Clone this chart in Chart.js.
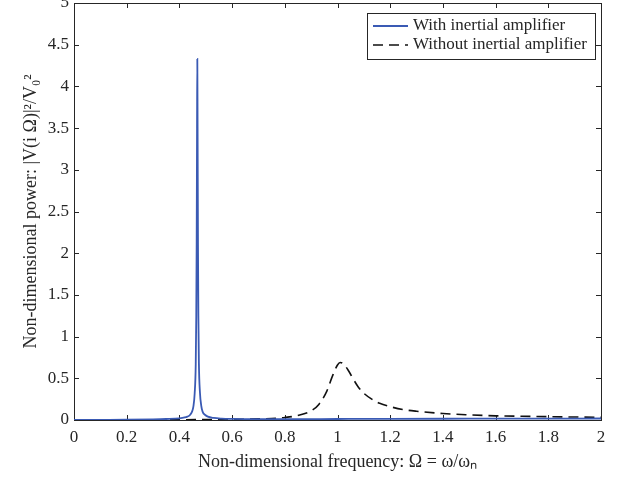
<!DOCTYPE html>
<html><head><meta charset="utf-8">
<script src="https://cdn.jsdelivr.net/npm/chart.js@4/dist/chart.umd.min.js"></script>
<style>html,body{margin:0;padding:0;background:#fff}#wrap{width:622px;height:478px}</style>
</head><body><div id="wrap"><canvas id="c" width="622" height="478"></canvas></div>
<script>
const seriesLabels = ['With inertial amplifier', 'Without inertial amplifier'];
const freqWith = [0, 0.1, 0.2, 0.3, 0.35, 0.4, 0.42, 0.43, 0.44, 0.448, 0.453, 0.458, 0.462, 0.464, 0.4655, 0.467, 0.468, 0.469, 0.4705, 0.472, 0.474, 0.478, 0.483, 0.488, 0.498, 0.508, 0.53, 0.56, 0.6, 0.7, 0.8, 1.0, 1.2, 1.4, 1.6, 1.8, 2.0];
const powerWith = [0, 0.002, 0.004, 0.008, 0.012, 0.02, 0.03, 0.04, 0.06, 0.1, 0.16, 0.32, 0.67, 1.25, 2.1, 3.5, 4.33, 3.5, 2.1, 1.25, 0.68, 0.33, 0.17, 0.1, 0.06, 0.04, 0.025, 0.017, 0.013, 0.01, 0.01, 0.012, 0.014, 0.015, 0.016, 0.017, 0.018];
const freqWithout = [0, 0.2, 0.4, 0.6, 0.7, 0.75, 0.8, 0.85, 0.9, 0.93, 0.96, 0.98, 1.0, 1.01, 1.02, 1.04, 1.06, 1.08, 1.1, 1.13, 1.16, 1.2, 1.25, 1.3, 1.4, 1.5, 1.6, 1.7, 1.8, 1.9, 2.0];
const powerWithout = [0, 0.001, 0.003, 0.008, 0.013, 0.018, 0.03, 0.055, 0.11, 0.19, 0.35, 0.52, 0.66, 0.69, 0.68, 0.6, 0.49, 0.39, 0.32, 0.25, 0.2, 0.16, 0.125, 0.105, 0.078, 0.062, 0.05, 0.045, 0.04, 0.036, 0.033];
const xTicks = [0, 0.2, 0.4, 0.6, 0.8, 1, 1.2, 1.4, 1.6, 1.8, 2];
const yTicks = [0, 0.5, 1, 1.5, 2, 2.5, 3, 3.5, 4, 4.5, 5];
const xTitle = 'Non-dimensional frequency: Ω = ω/ωₙ';
const yTitle = 'Non-dimensional power: |V(i Ω)|²/V₀²';

const AX = '#262626';
const FONT = "'Liberation Serif', 'Times New Roman', serif";

const framePlugin = {
  id: 'frame',
  beforeDatasetsDraw(chart) {
    const {ctx, chartArea: a, scales: {x, y}} = chart;
    ctx.save();
    ctx.strokeStyle = AX; ctx.lineWidth = 1;
    ctx.strokeRect(Math.round(a.left) + 0.5, Math.round(a.top) + 0.5, Math.round(a.right - a.left), Math.round(a.bottom - a.top));
    ctx.beginPath();
    xTicks.forEach(v => {
      const p = Math.round(x.getPixelForValue(v)) + 0.5;
      ctx.moveTo(p, a.bottom); ctx.lineTo(p, a.bottom - 5);
      ctx.moveTo(p, a.top); ctx.lineTo(p, a.top + 5);
    });
    yTicks.forEach(v => {
      const p = Math.round(y.getPixelForValue(v)) + 0.5;
      ctx.moveTo(a.left, p); ctx.lineTo(a.left + 5, p);
      ctx.moveTo(a.right, p); ctx.lineTo(a.right - 5, p);
    });
    ctx.stroke();
    ctx.restore();
  },
  afterDraw(chart) {
    const {ctx, chartArea: a} = chart;
    const ds = chart.data.datasets;
    ctx.save();
    ctx.font = '17px ' + FONT;
    const bx = a.right - 234, by = a.top + 10, bw = 228, bh = 46;
    ctx.fillStyle = '#fff';
    ctx.fillRect(bx, by, bw, bh);
    ctx.strokeStyle = AX; ctx.lineWidth = 1;
    ctx.strokeRect(bx + 0.5, by + 0.5, bw, bh);
    ds.forEach((d, i) => {
      const cy = by + 13 + i * 19;
      ctx.beginPath();
      ctx.strokeStyle = d.borderColor; ctx.lineWidth = d.borderWidth;
      ctx.setLineDash(d.borderDash || []);
      ctx.moveTo(bx + 6, cy); ctx.lineTo(bx + 41, cy);
      ctx.stroke();
      ctx.setLineDash([]);
      ctx.fillStyle = AX; ctx.textBaseline = 'middle'; ctx.textAlign = 'left';
      ctx.fillText(d.label, bx + 46, cy);
    });
    ctx.restore();
  }
};

new Chart(document.getElementById('c'), {
  type: 'line',
  data: {
    datasets: [
      { label: seriesLabels[0], data: freqWith.map((f, i) => ({x: f, y: powerWith[i]})),
        borderColor: '#3a5ab4', borderWidth: 1.8, pointRadius: 0, fill: false, cubicInterpolationMode: 'monotone' },
      { label: seriesLabels[1], data: freqWithout.map((f, i) => ({x: f, y: powerWithout[i]})),
        borderColor: '#111', borderWidth: 1.6, borderDash: [10, 6], pointRadius: 0, fill: false, cubicInterpolationMode: 'monotone' }
    ]
  },
  options: {
    responsive: false, animation: false, devicePixelRatio: 1,
    layout: { padding: { left: 0, right: 21, top: 3, bottom: 0 } },
    plugins: { legend: { display: false }, tooltip: { enabled: false } },
    scales: {
      x: {
        type: 'linear', min: 0, max: 2,
        afterBuildTicks: s => { s.ticks = xTicks.map(v => ({value: v})); },
        afterFit: s => { s.height = 58; s.paddingLeft = 0; s.paddingRight = 0; },
        grid: { display: false, drawTicks: false },
        border: { display: false },
        ticks: { color: AX, font: { family: FONT, size: 17 }, padding: 7, maxRotation: 0, autoSkip: false, callback: v => String(v) },
        title: { display: true, text: xTitle, color: AX, font: { family: FONT, size: 18 }, padding: { top: 0, bottom: 5 } }
      },
      y: {
        type: 'linear', min: 0, max: 5,
        afterBuildTicks: s => { s.ticks = yTicks.map(v => ({value: v})); },
        afterFit: s => { s.width = 74; s.paddingTop = 0; s.paddingBottom = 0; },
        grid: { display: false, drawTicks: false },
        border: { display: false },
        ticks: { color: AX, font: { family: FONT, size: 17 }, padding: 5, autoSkip: false, callback: v => String(v) },
        title: { display: true, text: yTitle, color: AX, font: { family: FONT, size: 18 }, padding: { top: 20, bottom: 0 } }
      }
    }
  },
  plugins: [framePlugin]
});
</script></body></html>
